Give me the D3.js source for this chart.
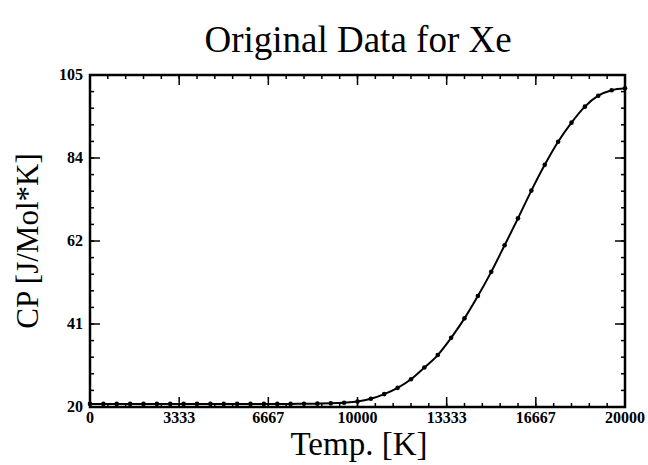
<!DOCTYPE html>
<html>
<head>
<meta charset="utf-8">
<script src="https://cdn.jsdelivr.net/npm/d3@7"></script>
<style>
  body { margin: 0; background: #fff; }
  svg text { font-family: "Liberation Serif", "Times New Roman", serif; fill: #000; }
</style>
</head>
<body>
<svg id="chart" width="648" height="465"></svg>
<script>
"use strict";

// temperatures [K] and heat capacity [J/Mol*K]
const temps = [0, 500, 1000, 1500, 2000, 2500, 3000, 3500, 4000, 4500,
               5000, 5500, 6000, 6500, 7000, 7500, 8000, 8500, 9000, 9500,
               10000, 10500, 11000, 11500, 12000, 12500, 13000, 13500, 14000, 14500,
               15000, 15500, 16000, 16500, 17000, 17500, 18000, 18500, 19000, 19500,
               20000];
const cpValues = [20.79, 20.79, 20.79, 20.79, 20.79, 20.79, 20.79, 20.79, 20.79, 20.79,
                  20.79, 20.79, 20.79, 20.79, 20.79, 20.8, 20.82, 20.86, 20.93, 21.1,
                  21.4, 22.1, 23.3, 24.9, 27.1, 30.1, 33.3, 37.7, 42.7, 48.4,
                  54.6, 61.4, 68.3, 75.4, 82.0, 87.9, 92.8, 96.9, 99.7, 101.1,
                  101.6];

const xTickValues = [0, 10000 / 3, 20000 / 3, 10000, 40000 / 3, 50000 / 3, 20000];
const xTickLabels = ["0", "3333", "6667", "10000", "13333", "16667", "20000"];
const yTickValues = [20, 41.25, 62.5, 83.75, 105];
const yTickLabels = ["20", "41", "62", "84", "105"];

const plotL = 90, plotR = 625, plotT = 75, plotB = 407;

const svg = d3.select("#chart");

const xScale = d3.scaleLinear().domain([0, 20000]).range([plotL, plotR]);
const yScale = d3.scaleLinear().domain([20, 105]).range([plotB, plotT]);

// minor ticks: 5 subdivisions between majors
const xMinor = d3.range(0, 31).map(i => i * 20000 / 30);
const yMinor = d3.range(0, 21).map(i => 20 + i * 85 / 20);

function tickLines(g, scale, vals, len, side) {
    const horiz = side === "b" || side === "t";
    g.append("g").selectAll("line")
        .data(vals)
        .join("line")
        .attr("x1", d => horiz ? scale(d) : (side === "l" ? plotL : plotR))
        .attr("x2", d => horiz ? scale(d) : (side === "l" ? plotL + len : plotR - len))
        .attr("y1", d => horiz ? (side === "b" ? plotB : plotT) : scale(d))
        .attr("y2", d => horiz ? (side === "b" ? plotB - len : plotT + len) : scale(d))
        .attr("stroke", "#000")
        .attr("stroke-width", 1.5);
}

const ticks = svg.append("g");
tickLines(ticks, xScale, xMinor, 4, "b");
tickLines(ticks, xScale, xMinor, 4, "t");
tickLines(ticks, xScale, xTickValues, 10, "b");
tickLines(ticks, xScale, xTickValues, 10, "t");
tickLines(ticks, yScale, yMinor, 4, "l");
tickLines(ticks, yScale, yMinor, 4, "r");
tickLines(ticks, yScale, yTickValues, 10, "l");
tickLines(ticks, yScale, yTickValues, 10, "r");

// frame
svg.append("rect")
    .attr("x", plotL).attr("y", plotT)
    .attr("width", plotR - plotL).attr("height", plotB - plotT)
    .attr("fill", "none")
    .attr("stroke", "#000")
    .attr("stroke-width", 2.5);

// tick labels
svg.append("g").selectAll("text")
    .data(xTickValues)
    .join("text")
    .attr("x", d => xScale(d))
    .attr("y", plotB + 16)
    .attr("text-anchor", "middle")
    .style("font-size", "16px")
    .style("font-weight", "bold")
    .text((d, i) => xTickLabels[i]);

svg.append("g").selectAll("text")
    .data(yTickValues)
    .join("text")
    .attr("x", plotL - 7)
    .attr("y", d => yScale(d) + 5)
    .attr("text-anchor", "end")
    .style("font-size", "16px")
    .style("font-weight", "bold")
    .text((d, i) => yTickLabels[i]);

// data curve
const pts = temps.map((t, i) => ({t: t, v: cpValues[i]}));

const line = d3.line()
    .x(d => xScale(d.t))
    .y(d => yScale(d.v))
    .curve(d3.curveMonotoneX);

svg.append("path")
    .datum(pts)
    .attr("d", line)
    .attr("fill", "none")
    .attr("stroke", "#000")
    .attr("stroke-width", 2);

svg.append("g").selectAll("circle")
    .data(pts)
    .join("circle")
    .attr("cx", d => xScale(d.t))
    .attr("cy", d => yScale(d.v))
    .attr("r", 2.3)
    .attr("fill", "#000");

// titles
svg.append("text")
    .attr("x", 358)
    .attr("y", 52)
    .attr("text-anchor", "middle")
    .style("font-size", "37px")
    .text("Original Data for Xe");

svg.append("text")
    .attr("x", 359)
    .attr("y", 455)
    .attr("text-anchor", "middle")
    .style("font-size", "33px")
    .style("font-weight", "500")
    .text("Temp. [K]");

svg.append("text")
    .attr("transform", "translate(38," + 241 + ") rotate(-90)")
    .attr("text-anchor", "middle")
    .style("font-size", "31px")
    .text("CP [J/Mol*K]");
</script>
</body>
</html>
